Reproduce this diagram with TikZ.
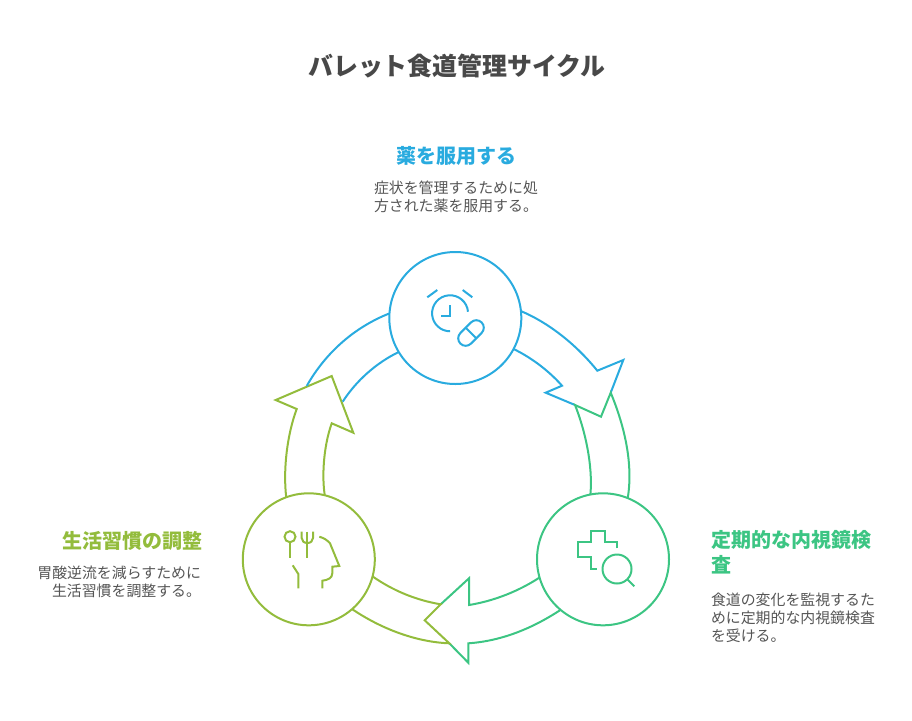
\documentclass[tikz,border=0pt]{standalone}
\usepackage{fontspec}
\usepackage{xcolor}
\setmainfont{Noto Sans CJK JP}
\definecolor{medblue}{HTML}{29ABDF}
\definecolor{scopegreen}{HTML}{3CC583}
\definecolor{dietolive}{HTML}{93BC3C}
\definecolor{titlegray}{HTML}{484848}
\definecolor{descgray}{HTML}{555555}
\begin{document}
\begin{tikzpicture}[x=1pt, y=-1pt, line width=2pt,
    stage/.style={circle, draw, line width=2pt, minimum size=132pt, inner sep=0pt, outer sep=0pt},
    titletext/.style={inner sep=0pt, text=titlegray, font=\fontsize{24.9}{30}\selectfont\bfseries},
    headtext/.style={inner sep=0pt, font=\fontsize{20}{25}\selectfont\bfseries},
    desctext/.style={inner sep=0pt, text=descgray, font=\fontsize{14.9}{18.2}\selectfont}]
    \useasboundingbox (0,0) rectangle (912,720);

    \node[stage, medblue] (medcircle) at (455.3,318) {};
    \node[stage, scopegreen] (scopecircle) at (603,559.3) {};
    \node[stage, dietolive] (dietcircle) at (308.8,559.3) {};

    \node[titletext] (title) at (457,66) {バレット食道管理サイクル};
    \node[headtext, text=medblue] (medhead) at (456,156) {薬を服用する};
    \node[desctext, anchor=west, align=left] (meddesc) at (373,197) {症状を管理するために処\\方された薬を服用する。};
    \node[headtext, text=dietolive, anchor=east] (diethead) at (203,540.5) {生活習慣の調整};
    \node[desctext, anchor=east, align=right] (dietdesc) at (202,582) {胃酸逆流を減らすために\\生活習慣を調整する。};
    \node[headtext, text=scopegreen, anchor=west, align=left] (scopehead) at (710.5,552) {定期的な内視鏡検\\査};
    \node[desctext, anchor=west, align=left] (scopedesc) at (710,618) {食道の変化を監視するた\\めに定期的な内視鏡検査\\を受ける。};

    % arrows
    \draw[medblue] (medcircle.6) .. controls (547,322) and (575,343) .. (597.3,370.7) -- (623.3,360) -- (610.7,392.7);
    \draw[medblue] (575,405) -- (545.7,392.7) -- (562,385.7) .. controls (549,371) and (532,358) .. (medcircle.-28);
    \draw[scopegreen] (scopecircle.68) .. controls (634,460) and (622,420) .. (610.7,392.7) -- (601,416.7) -- (575,405) .. controls (585,430) and (593,465) .. (scopecircle.101);
    \draw[scopegreen] (scopecircle.196.5) .. controls (519,591) and (494,601) .. (469,605) -- (469,578.3) -- (440.7,604.3);
    \draw[scopegreen] (449.3,643.3) -- (468.3,662.7) -- (468.3,643.3) .. controls (502,641) and (533,628) .. (scopecircle.230);
    \draw[dietolive] (dietcircle.-15) .. controls (392,590) and (415,600) .. (440.7,604.3) -- (424.7,620.3) -- (449.3,643.3) .. controls (415,642) and (380,628) .. (dietcircle.-49);
    \draw[dietolive] (dietcircle.110) .. controls (283,470) and (287,435) .. (296.7,409) -- (275.7,400) -- (331.7,376) -- (353.3,432.7) -- (331.7,423.3) .. controls (323,448) and (322,478) .. (dietcircle.76);
    \draw[medblue] (medcircle.176) .. controls (355,327) and (326,352) .. (306.7,386);
    \draw[medblue] (342.7,401.7) .. controls (356,381) and (376,363) .. (medcircle.211);

    % clock and pill
    \draw[medblue] (468,311.7) arc[start angle=-5, end angle=-270, radius=18];
    \draw[medblue] (450,305) -- (450,315.7) -- (441,315.7);
    \draw[medblue] (427.3,297.3) -- (437.3,290);
    \draw[medblue] (462.7,290) -- (472.3,297.3);
    \begin{scope}[shift={(471,333)}, rotate=45]
        \draw[medblue, rounded corners=7.5pt] (-15,-7.5) rectangle (15,7.5);
        \draw[medblue] (0,-7.5) -- (0,7.5);
    \end{scope}

    % cross and lens
    \draw[scopegreen] (617.3,548.3) -- (617.3,542.3) -- (605,542.3) -- (605,530.7) -- (590.7,530.7) -- (590.7,542.3) -- (578.3,542.3) -- (578.3,557.3) -- (590.7,557.3) -- (590.7,569) -- (596.7,569);
    \draw[scopegreen] (617,569) circle[radius=14.5];
    \draw[scopegreen] (627.3,579.3) -- (634.3,586.3);

    % spoon, fork and head
    \draw[dietolive] (290,536.7) circle[radius=5.5];
    \draw[dietolive] (290,542.7) -- (290,558.3);
    \draw[dietolive] (307.3,531.7) -- (307.3,558.3);
    \draw[dietolive] (301.7,531.7) -- (301.7,538) .. controls (301.7,541) and (304,543) .. (307.3,543) .. controls (310.6,543) and (313,541) .. (313,538) -- (313,531.7);
    \draw[dietolive] (319.3,536.7) .. controls (324,538) and (327,540) .. (330,543.3) -- (339.3,566) -- (332.3,566.7) -- (332.3,573.3) .. controls (332.3,578) and (328,580) .. (322.3,580.7) -- (322.3,588.3);
    \draw[dietolive] (292.7,565.3) -- (298.3,574) -- (298.3,588.3);
\end{tikzpicture}
\end{document}
